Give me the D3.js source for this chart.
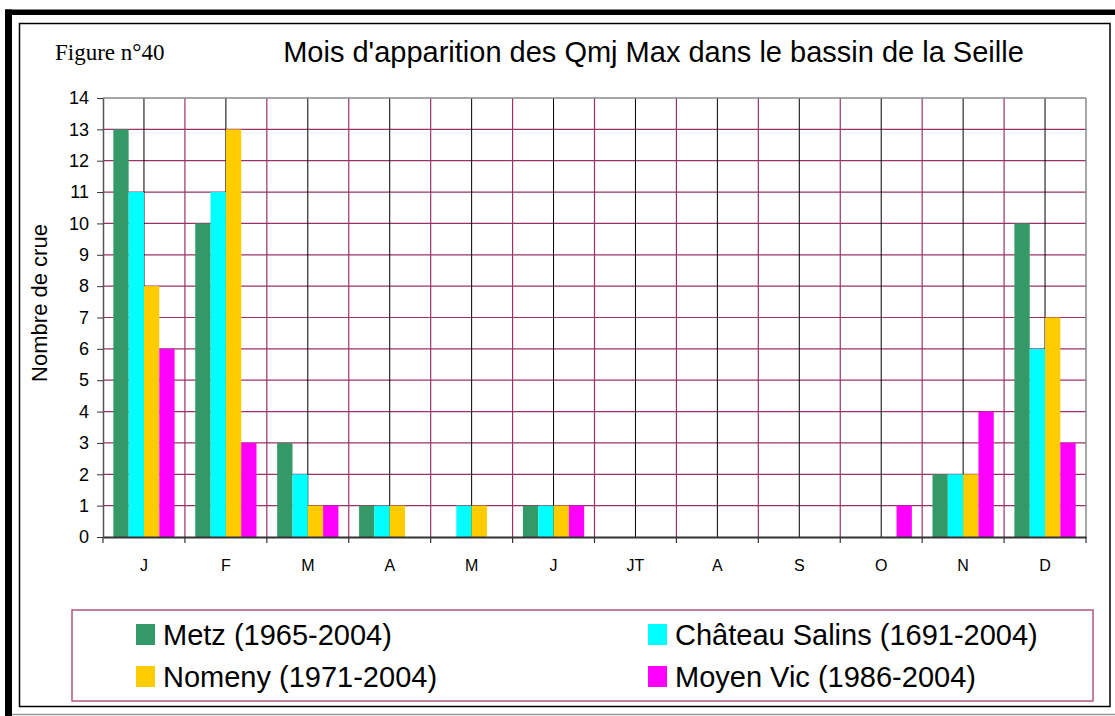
<!DOCTYPE html>
<html>
<head>
<meta charset="utf-8">
<script src="https://cdn.jsdelivr.net/npm/d3@7"></script>
<style>
  html, body { margin: 0; padding: 0; background: #fff; }
  svg { display: block; }
</style>
</head>
<body>
<svg id="chart" width="1115" height="716"></svg>
<script>
// Month labels along the x axis
const months = ["J", "F", "M", "A", "M", "J", "JT", "A", "S", "O", "N", "D"];

// Number of annual maximum daily flows per month, by gauging station
const metz = [13, 10, 3, 1, 0, 1, 0, 0, 0, 0, 2, 10];
const chateauSalins = [11, 11, 2, 1, 1, 1, 0, 0, 0, 0, 2, 6];
const nomeny = [8, 13, 1, 1, 1, 1, 0, 0, 0, 0, 2, 7];
const moyenVic = [6, 3, 1, 0, 0, 1, 0, 0, 0, 1, 4, 3];

const seriesNames = ["Metz (1965-2004)", "Château Salins (1691-2004)", "Nomeny (1971-2004)", "Moyen Vic (1986-2004)"];
const seriesColors = ["#339966", "#00FFFF", "#FFCC00", "#FF00FF"];
const yTicks = d3.range(0, 15);

const series = [metz, chateauSalins, nomeny, moyenVic].map((values, k) => ({
  name: seriesNames[k], color: seriesColors[k], values
}));

const svg = d3.select("#chart");
const sans = "Liberation Sans, Arial, sans-serif";
const grid = "#993366";

// Frame around the figure
svg.append("rect").attr("x", 5).attr("y", 9.5).attr("width", 1110).attr("height", 5.5).attr("fill", "#000");
svg.append("rect").attr("x", 5).attr("y", 9.5).attr("width", 7).attr("height", 706.5).attr("fill", "#000");
svg.append("line").attr("x1", 12).attr("x2", 1115).attr("y1", 714.5).attr("y2", 714.5)
  .attr("stroke", "#999").attr("stroke-width", 1.5);
svg.append("rect").attr("x", 19.5).attr("y", 23.5).attr("width", 1090.5).attr("height", 683)
  .attr("fill", "none").attr("stroke", "#000").attr("stroke-width", 1.5);

// Titles
svg.append("text").attr("x", 55).attr("y", 60)
  .attr("font-family", "Liberation Serif, Times New Roman, serif").attr("font-size", 23)
  .text("Figure n°40");
svg.append("text").attr("x", 653.5).attr("y", 62).attr("text-anchor", "middle")
  .attr("font-family", sans).attr("font-size", 29)
  .text("Mois d'apparition des Qmj Max dans le bassin de la Seille");

// Plot area and scales
const plot = { left: 103, right: 1086, top: 98, bottom: 537 };
const x = d3.scaleBand().domain(d3.range(months.length)).range([plot.left, plot.right]).padding(0);
const xs = d3.scaleBand().domain(d3.range(series.length)).range([0, x.bandwidth()])
  .paddingInner(0).paddingOuter(0.675);
const y = d3.scaleLinear().domain([0, 14]).range([plot.bottom, plot.top]);

const g = svg.append("g");

// Horizontal gridlines
g.selectAll("line.h").data(yTicks.filter(v => v > 0 && v < 14)).join("line")
  .attr("x1", plot.left).attr("x2", plot.right)
  .attr("y1", d => y(d)).attr("y2", d => y(d))
  .attr("stroke", grid).attr("stroke-width", 1.2);

// Vertical gridlines: month boundaries and month centres
g.selectAll("line.vb").data(d3.range(1, months.length)).join("line")
  .attr("x1", d => x(d)).attr("x2", d => x(d))
  .attr("y1", plot.top).attr("y2", plot.bottom)
  .attr("stroke", grid).attr("stroke-width", 1.2);
g.selectAll("line.vc").data(d3.range(months.length)).join("line")
  .attr("x1", d => x(d) + x.bandwidth() / 2).attr("x2", d => x(d) + x.bandwidth() / 2)
  .attr("y1", plot.top).attr("y2", plot.bottom)
  .attr("stroke", "#000").attr("stroke-width", 1);

// Bars
series.forEach((s, k) => {
  g.selectAll(null).data(s.values.map((v, i) => ({ v, i }))).join("rect")
    .filter(d => d.v > 0)
    .attr("x", d => x(d.i) + xs(k))
    .attr("width", xs.bandwidth())
    .attr("y", d => y(d.v))
    .attr("height", d => y(0) - y(d.v))
    .attr("fill", s.color);
});

// Plot border (top and right)
svg.append("line").attr("x1", plot.left).attr("x2", plot.right).attr("y1", plot.top).attr("y2", plot.top)
  .attr("stroke", "#888").attr("stroke-width", 1.5);
svg.append("line").attr("x1", plot.right).attr("x2", plot.right).attr("y1", plot.top).attr("y2", plot.bottom)
  .attr("stroke", "#888").attr("stroke-width", 1.5);

// Y axis
const yAxis = svg.append("g").attr("transform", `translate(${plot.left},0)`)
  .call(d3.axisLeft(y).tickValues(yTicks).tickSize(6).tickPadding(8).tickSizeOuter(0));
yAxis.select(".domain").attr("stroke", "#555").attr("stroke-width", 1.5);
yAxis.selectAll(".tick line").attr("stroke", "#333");
yAxis.selectAll("text").attr("font-family", sans).attr("font-size", 18).attr("fill", "#000");

// X axis: labels centred on months, ticks on boundaries
const xAxis = svg.append("g").attr("transform", `translate(0,${plot.bottom})`)
  .call(d3.axisBottom(x).tickFormat(i => months[i]).tickSize(0).tickPadding(23).tickSizeOuter(0));
xAxis.select(".domain").attr("stroke", "#333").attr("stroke-width", 2);
xAxis.selectAll("text").attr("font-family", sans).attr("font-size", 16).attr("fill", "#000");
svg.append("g").selectAll("line").data(d3.range(months.length + 1)).join("line")
  .attr("x1", d => d < months.length ? x(d) : plot.right)
  .attr("x2", d => d < months.length ? x(d) : plot.right)
  .attr("y1", plot.bottom).attr("y2", plot.bottom + 6)
  .attr("stroke", "#333").attr("stroke-width", 1.2);

// Y axis title
svg.append("text").attr("transform", "translate(47,303) rotate(-90)")
  .attr("text-anchor", "middle").attr("font-family", sans).attr("font-size", 22)
  .text("Nombre de crue");

// Legend
svg.append("rect").attr("x", 72).attr("y", 610).attr("width", 1021).attr("height", 91)
  .attr("fill", "none").attr("stroke", "#b0577f").attr("stroke-width", 1.5);
const legendPos = [
  { x: 136, y: 645 }, { x: 648, y: 645 },
  { x: 136, y: 687 }, { x: 648, y: 687 }
];
const legend = svg.append("g").selectAll("g").data(series).join("g")
  .attr("transform", (d, k) => `translate(${legendPos[k].x},${legendPos[k].y})`);
legend.append("rect").attr("x", 0).attr("y", -21).attr("width", 19).attr("height", 21)
  .attr("fill", d => d.color);
legend.append("text").attr("x", 27).attr("y", 0)
  .attr("font-family", sans).attr("font-size", 29).text(d => d.name);
</script>
</body>
</html>
